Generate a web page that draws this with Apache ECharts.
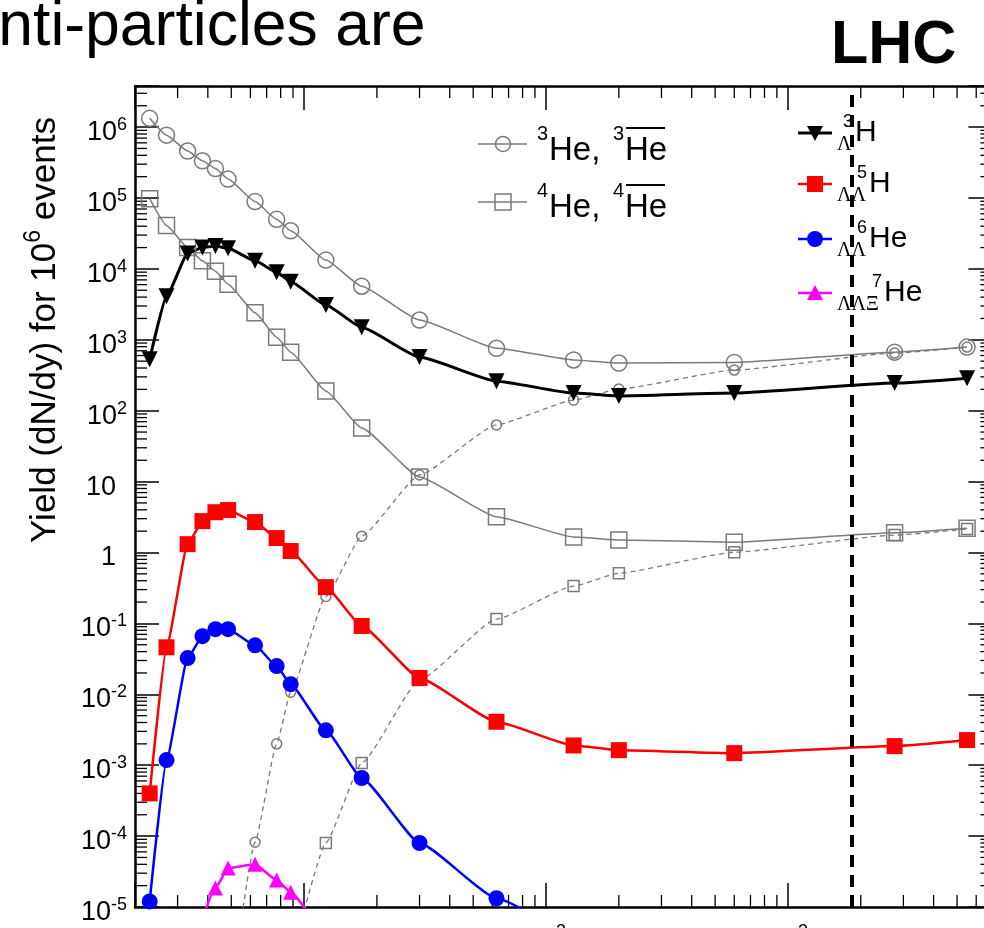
<!DOCTYPE html>
<html><head><meta charset="utf-8">
<script src="https://cdn.jsdelivr.net/npm/echarts@6/dist/echarts.min.js"></script>
<style>html,body{margin:0;padding:0;overflow:hidden;background:#fff}#c{width:1000px;height:960px}</style>
</head><body><div id="c"></div><script>
// ---- data (sqrt(s_NN) in GeV, yields per 10^6 events) ----
const energies = [2.3, 2.7, 3.3, 3.8, 4.3, 4.85, 6.27, 7.7, 8.8, 12.3, 17.3, 30, 62.4, 130, 200, 600, 2760, 5500];
const he3     = [1.33e6, 7.7e5, 4.6e5, 3.35e5, 2.6e5, 1.85e5, 8.9e4, 5.0e4, 3.45e4, 1.33e4, 5.7e3, 1.9e3, 760, 520, 470, 480, 670, 790];
const antiHe3 = [null, null, null, null, null, 3e-7, 8.2e-5, 2.0e-3, 1.07e-2, 0.24, 1.7, 12.4, 63, 141, 202, 374, 649, 789];
const he4     = [9.8e4, 4.1e4, 2.0e4, 1.3e4, 9.3e3, 6.1e3, 2.4e3, 1.09e3, 670, 190, 57, 11.6, 3.2, 1.65, 1.5, 1.4, 1.9, 2.2];
const antiHe4 = [null, null, null, null, null, null, null, null, 1.6e-6, 8.0e-5, 1.07e-3, 0.0159, 0.115, 0.336, 0.51, 1.01, 1.76, 2.14];
const hyperH3 = [530, 4100, 1.65e4, 2.0e4, 2.1e4, 1.95e4, 1.3e4, 9.0e3, 6.6e3, 3100, 1500, 570, 261, 177, 161, 177, 245, 288];
const llH5    = [4.0e-4, 0.046, 1.31, 2.77, 3.7, 3.97, 2.69, 1.6, 1.05, 0.325, 0.092, 0.017, 4.1e-3, 1.9e-3, 1.63e-3, 1.48e-3, 1.86e-3, 2.26e-3];
const llHe6   = [1.2e-5, 1.18e-3, 0.0324, 0.066, 0.083, 0.083, 0.049, 0.025, 0.0139, 3.1e-3, 6.6e-4, 8.0e-5, 1.33e-5, 3.5e-6, null, null, null, null];
const llxHe7  = [null, null, null, 7e-6, 1.85e-5, 3.54e-5, 4.0e-5, 2.4e-5, 1.62e-5, 3.4e-6, null, null, null, null, null, null, null, null];
const lhcEnergy = 1840;
// axis ranges and tick labels
const X_MIN = 2, X_MAX = 7000, Y_MIN = 1e-5, Y_MAX = 3.8e6;
const xTickExps = [1, 2, 3];
const yTickExps = [-5, -4, -3, -2, -1, 0, 1, 2, 3, 4, 5, 6];
const xMinorTicks = [3,4,5,6,7,8,9, 20,30,40,50,60,70,80,90, 200,300,400,500,600,700,800,900, 2000,3000,4000,5000,6000];
const yMinorMantissas = [2,3,4,5,6,7,8,9];

const SANS = '"Liberation Sans", Arial, Helvetica, sans-serif';
const SERIF = '"Liberation Serif", "Times New Roman", serif';
const GRAY = '#7a7a7a';

const yMinorTicks = [];
yTickExps.forEach(k => yMinorMantissas.forEach(m => { const v = m * Math.pow(10, k); if (v < Y_MAX) yMinorTicks.push(v); }));

const chart = echarts.init(document.getElementById('c'), null, {renderer: 'canvas'});

const measureCtx = document.createElement('canvas').getContext('2d');
function tw(text, font) { measureCtx.font = font; return measureCtx.measureText(text).width; }

function pairs(arr) { const out = []; arr.forEach((v, i) => { if (v != null) out.push([energies[i], v]); }); return out; }
function lineSeries(name, arr, color, width, dashed, symbol, size, hollow, extra) {
  return Object.assign({
    name, type: 'line', xAxisIndex: 0, yAxisIndex: 0, data: pairs(arr),
    smooth: 0.15, smoothMonotone: 'x', clip: true, silent: true, animation: false,
    symbol, symbolSize: size, showAllSymbol: true,
    lineStyle: {color, width, type: dashed ? [5, 4] : 'solid'},
    itemStyle: hollow ? {color: 'rgba(255,255,255,0)', borderColor: color, borderWidth: 1.5} : {color, borderWidth: 0},
    emphasis: {disabled: true}
  }, extra || {});
}

const richLab = {
  m: {fontSize: 27, lineHeight: 30, fontFamily: SANS, color: '#000', verticalAlign: 'bottom'},
  s: {fontSize: 18, lineHeight: 12, fontFamily: SANS, color: '#000', verticalAlign: 'top'},
  p: {fontSize: 27, lineHeight: 30, width: 11, fontFamily: SANS}
};
function expLabel(k, padPlain) {
  if (k === 0) return padPlain ? '{m|1}{p| }' : '{m|1}';
  if (k === 1) return padPlain ? '{m|10}{p| }' : '{m|10}';
  return '{m|10}{s|' + k + '}';
}

const tickStyle = {color: '#000', width: 1.5};
const frameStyle = {color: '#000', width: 2.5};

const series = [
  lineSeries('anti3He', antiHe3, GRAY, 1.3, true, 'circle', 10, true),
  lineSeries('anti4He', antiHe4, GRAY, 1.3, true, 'rect', 11, true),
  lineSeries('3He', he3, GRAY, 1.5, false, 'circle', 16, true),
  lineSeries('4He', he4, GRAY, 1.5, false, 'rect', 16, true),
  lineSeries('hyperH3', hyperH3, '#000', 3, false, 'triangle', 16, false, {symbolRotate: 180}),
  lineSeries('llH5', llH5, '#ff0000', 2.5, false, 'rect', 16, false),
  lineSeries('llHe6', llHe6, '#0000ff', 2.5, false, 'circle', 16, false),
  lineSeries('llxHe7', llxHe7, '#ff00ff', 2.5, false, 'triangle', 15, false, {
    markLine: {silent: true, symbol: ['none', 'none'], label: {show: false}, animation: false,
      lineStyle: {color: '#000', width: 4, type: [12, 8]}, emphasis: {disabled: true},
      data: [{xAxis: lhcEnergy}]}
  }),
  {
    type: 'custom', xAxisIndex: 0, yAxisIndex: 0, silent: true, clip: false, animation: false,
    data: yMinorTicks.map(v => [X_MIN, v]),
    renderItem: (params, api) => {
      const v = api.value(1);
      const a = api.coord([X_MIN, v]), b = api.coord([X_MAX, v]);
      return {type: 'group', children: [
        {type: 'line', shape: {x1: a[0], y1: a[1], x2: a[0] + 12, y2: a[1]}, style: {stroke: '#000', lineWidth: 1.3}},
        {type: 'line', shape: {x1: b[0], y1: b[1], x2: b[0] - 12, y2: b[1]}, style: {stroke: '#000', lineWidth: 1.3}}
      ]};
    }
  },
  {
    type: 'custom', xAxisIndex: 0, yAxisIndex: 0, silent: true, clip: false, animation: false,
    data: xMinorTicks.map(v => [v, Y_MIN]),
    renderItem: (params, api) => {
      const v = api.value(0);
      const a = api.coord([v, Y_MIN]), b = api.coord([v, Y_MAX]);
      return {type: 'group', children: [
        {type: 'line', shape: {x1: a[0], y1: a[1], x2: a[0], y2: a[1] - 12}, style: {stroke: '#000', lineWidth: 1.3}},
        {type: 'line', shape: {x1: b[0], y1: b[1], x2: b[0], y2: b[1] + 12}, style: {stroke: '#000', lineWidth: 1.3}}
      ]};
    }
  }
];

// ---- graphic text helpers (legend, titles) ----
function T(text, x, y, size, o) {
  o = o || {};
  const font = (o.bold ? 'bold ' : '') + size + 'px ' + (o.serif ? SERIF : SANS);
  const al = o.align || 'left', va = o.va || 'middle';
  return {type: 'text', x, y, silent: true, z: 100,
    style: {text, font, fill: '#000', align: al, verticalAlign: va, textAlign: al, textVerticalAlign: va}};
}
function L(x1, y1, x2, y2, color, w) {
  return {type: 'line', silent: true, z: 100, shape: {x1, y1, x2, y2}, style: {stroke: color, lineWidth: w}};
}
const graphics = [];
// page fragment texts
graphics.push(T('anti-particles are', -36.5, 28, 62.5));
graphics.push(T('LHC', 831, 46, 61, {bold: true}));
// y axis title (rotated)
(function () {
  const f1 = '35px ' + SANS, f2 = '23px ' + SANS;
  const a = 'Yield (dN/dy) for 10', s = '6', b = ' events';
  const w1 = tw(a, f1), ws = tw(s, f2), w2 = tw(b, f1);
  const W = w1 + ws + w2, x0 = -W / 2;
  graphics.push({type: 'group', x: 45, y: 330, rotation: Math.PI / 2, silent: true, children: [
    T(a, x0, 0, 35), T(s, x0 + w1, -11, 23), T(b, x0 + w1 + ws, 0, 35)
  ]});
})();
// left legend
graphics.push(L(478, 144, 527, 144, GRAY, 1.5));
graphics.push({type: 'circle', silent: true, z: 100, shape: {cx: 503, cy: 144, r: 7.5}, style: {fill: 'rgba(0,0,0,0)', stroke: GRAY, lineWidth: 1.5}});
graphics.push(T('3', 537, 134, 20), T('He,', 549, 151, 33), T('3', 613, 134, 20), T('He', 625, 151, 33));
graphics.push(L(626, 128, 665, 128, '#000', 2));
graphics.push(L(478, 202, 527, 202, GRAY, 1.5));
graphics.push({type: 'rect', silent: true, z: 100, shape: {x: 495, y: 194, width: 16, height: 16}, style: {fill: 'rgba(0,0,0,0)', stroke: GRAY, lineWidth: 1.5}});
graphics.push(T('4', 537, 191, 20), T('He,', 549, 208, 33), T('4', 613, 191, 20), T('He', 625, 208, 33));
graphics.push(L(626, 185, 665, 185, '#000', 2));
// right legend
function sym(type, cx, cy, color) {
  if (type === 'tdown') return {type: 'polygon', silent: true, z: 100, shape: {points: [[cx - 8, cy - 7], [cx + 8, cy - 7], [cx, cy + 8]]}, style: {fill: color}};
  if (type === 'tup') return {type: 'polygon', silent: true, z: 100, shape: {points: [[cx - 8, cy + 7], [cx + 8, cy + 7], [cx, cy - 8]]}, style: {fill: color}};
  if (type === 'rect') return {type: 'rect', silent: true, z: 100, shape: {x: cx - 8, y: cy - 8, width: 16, height: 16}, style: {fill: color}};
  return {type: 'circle', silent: true, z: 100, shape: {cx, cy, r: 8}, style: {fill: color}};
}
const rl = [
  {y: 133, color: '#000', w: 3, sym: 'tdown', sub: 'Λ', subEnd: 853, sup: '3', main: 'H'},
  {y: 184, color: '#ff0000', w: 2.5, sym: 'rect', sub: 'ΛΛ', subEnd: 867, sup: '5', main: 'H'},
  {y: 239, color: '#0000ff', w: 2.5, sym: 'circle', sub: 'ΛΛ', subEnd: 867, sup: '6', main: 'He'},
  {y: 293, color: '#ff00ff', w: 2.5, sym: 'tup', sub: 'ΛΛΞ', subEnd: 882, sup: '7', main: 'He'}
];
rl.forEach(e => {
  graphics.push(L(798, e.y, 832, e.y, e.color, e.w));
  graphics.push(sym(e.sym, 815, e.y, e.color));
  graphics.push(T(e.sub, 837, e.y + 12, 20, {serif: true}));
  graphics.push(T(e.sup, e.subEnd, e.y - 11, 18, {align: 'right'}));
  graphics.push(T(e.main, e.subEnd + 2, e.y, 30));
});

const option = {
  animation: false,
  backgroundColor: '#fff',
  grid: {left: 135, top: 86, width: 857.4, height: 821, containLabel: false},
  xAxis: [
    {type: 'log', min: X_MIN, max: X_MAX, position: 'bottom',
      axisLine: {show: true, onZero: false, lineStyle: frameStyle}, axisTick: {show: true, inside: true, length: 24, lineStyle: tickStyle},
      axisLabel: {show: true, margin: 16, rich: richLab, formatter: v => {
        const k = Math.round(Math.log10(v));
        if (Math.abs(Math.log10(v) - k) > 1e-6 || xTickExps.indexOf(k) < 0) return '';
        return expLabel(k, false);
      }},
      splitLine: {show: false}, minorTick: {show: false}},
    {type: 'log', min: X_MIN, max: X_MAX, position: 'top',
      axisLine: {show: true, onZero: false, lineStyle: frameStyle}, axisTick: {show: true, inside: true, length: 24, lineStyle: tickStyle},
      axisLabel: {show: false}, splitLine: {show: false}}
  ],
  yAxis: [
    {type: 'log', min: Y_MIN, max: Y_MAX, position: 'left',
      axisLine: {show: true, onZero: false, lineStyle: frameStyle}, axisTick: {show: false}, axisLabel: {show: false}, splitLine: {show: false}},
    {type: 'value', min: -5, max: Math.log10(Y_MAX), interval: 1, position: 'left',
      axisLine: {show: false, onZero: false}, axisTick: {show: true, inside: true, length: 24, lineStyle: tickStyle},
      axisLabel: {show: true, margin: 8, padding: [8, 0, 0, 0], rich: richLab, formatter: v => {
        const k = Math.round(v);
        if (Math.abs(v - k) > 1e-6 || yTickExps.indexOf(k) < 0) return '';
        return expLabel(k, true);
      }},
      splitLine: {show: false}},
    {type: 'value', min: -5, max: Math.log10(Y_MAX), interval: 1, position: 'right',
      axisLine: {show: true, onZero: false, lineStyle: frameStyle}, axisTick: {show: true, inside: true, length: 24, lineStyle: tickStyle},
      axisLabel: {show: false}, splitLine: {show: false}}
  ],
  series,
  graphic: {elements: graphics}
};
chart.setOption(option);
</script></body></html>
